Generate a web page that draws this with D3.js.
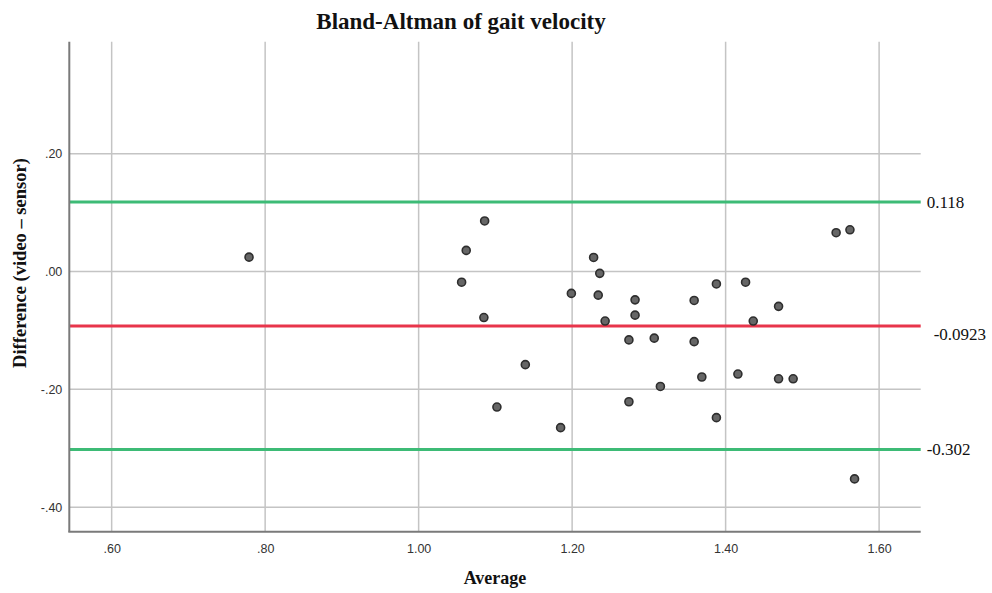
<!DOCTYPE html>
<html>
<head>
<meta charset="utf-8">
<script src="https://cdn.jsdelivr.net/npm/d3@7"></script>
<style>
  html, body { margin: 0; padding: 0; background: #ffffff; }
  svg { display: block; }
</style>
</head>
<body>
<svg id="chart" width="992" height="593"></svg>
<script>
// ---- data ----
const averageValues = [0.779, 1.086, 1.062, 1.056, 1.085, 1.139, 1.102, 1.185, 1.199, 1.228,
  1.236, 1.234, 1.243, 1.282, 1.282, 1.274, 1.307, 1.274, 1.315, 1.359, 1.359, 1.369,
  1.388, 1.426, 1.469, 1.436, 1.416, 1.469, 1.488, 1.388, 1.544, 1.562, 1.568];
const differenceValues = [0.0245, 0.086, 0.036, -0.018, -0.078, -0.158, -0.230, -0.265, -0.037, 0.024,
  -0.003, -0.040, -0.084, -0.048, -0.074, -0.116, -0.113, -0.221, -0.195, -0.049, -0.119, -0.179,
  -0.021, -0.018, -0.059, -0.084, -0.174, -0.182, -0.182, -0.248, 0.066, 0.071, -0.352];
const xTickValues = [0.6, 0.8, 1.0, 1.2, 1.4, 1.6];
const xTickLabels = [".60", ".80", "1.00", "1.20", "1.40", "1.60"];
const yTickValues = [0.2, 0.0, -0.2, -0.4];
const yTickLabels = [".20", ".00", "-.20", "-.40"];
const refValues = [0.118, -0.0923, -0.302];
const refLabels = ["0.118", "-0.0923", "-0.302"];
const refKinds = ["limit", "mean", "limit"];
const titleText = "Bland-Altman of gait velocity";
const xTitle = "Average";
const yTitle = "Difference (video \u2013 sensor)";

// ---- layout ----
const plot = { left: 69.3, right: 920.7, top: 41.7, bottom: 531.7 };
const x = d3.scaleLinear().domain([0.5448, 1.6542]).range([plot.left, plot.right]);
const y = d3.scaleLinear().domain([-0.4417, 0.3904]).range([plot.bottom, plot.top]);

const svg = d3.select("#chart");
const serif = "'Liberation Serif', 'Times New Roman', serif";
const sans = "'Liberation Sans', Arial, sans-serif";

// gridlines
const grid = svg.append("g").attr("stroke", "#c4c4c4").attr("stroke-width", 1.5);
grid.selectAll("line.v").data(xTickValues).join("line")
  .attr("class", "v")
  .attr("x1", d => x(d)).attr("x2", d => x(d))
  .attr("y1", plot.top).attr("y2", plot.bottom);
grid.selectAll("line.h").data(yTickValues).join("line")
  .attr("class", "h")
  .attr("x1", plot.left).attr("x2", plot.right)
  .attr("y1", d => y(d)).attr("y2", d => y(d));

// reference lines
const refColor = { limit: "#3dbb76", mean: "#e8354b" };
svg.append("g").selectAll("line").data(refValues).join("line")
  .attr("x1", plot.left).attr("x2", plot.right)
  .attr("y1", d => y(d)).attr("y2", d => y(d))
  .attr("stroke", (d, i) => refColor[refKinds[i]])
  .attr("stroke-width", 3);

// axes (labels via d3 axes)
const xAxis = d3.axisBottom(x).tickValues(xTickValues)
  .tickFormat((d, i) => xTickLabels[i]).tickSize(0).tickPadding(12);
const gx = svg.append("g").attr("transform", `translate(0,${plot.bottom})`).call(xAxis);
gx.select(".domain").remove();
gx.selectAll("text").attr("font-family", sans).attr("font-size", 12.5).attr("fill", "#333");

const yAxis = d3.axisLeft(y).tickValues(yTickValues)
  .tickFormat((d, i) => yTickLabels[i]).tickSize(0).tickPadding(7);
const gy = svg.append("g").attr("transform", `translate(${plot.left},0)`).call(yAxis);
gy.select(".domain").remove();
gy.selectAll("text").attr("font-family", sans).attr("font-size", 12.5).attr("fill", "#333");

// axis lines
svg.append("line").attr("x1", plot.left).attr("x2", plot.left)
  .attr("y1", plot.top).attr("y2", plot.bottom)
  .attr("stroke", "#7a7a7a").attr("stroke-width", 2);
svg.append("line").attr("x1", plot.left - 1).attr("x2", plot.right)
  .attr("y1", plot.bottom).attr("y2", plot.bottom)
  .attr("stroke", "#7a7a7a").attr("stroke-width", 2);

// points
const pts = averageValues.map((a, i) => ({ a, d: differenceValues[i] }));
svg.append("g").selectAll("circle").data(pts).join("circle")
  .attr("cx", p => x(p.a)).attr("cy", p => y(p.d))
  .attr("r", 4)
  .attr("fill", "#666666")
  .attr("stroke", "#2e2e2e")
  .attr("stroke-width", 1.6);

// reference labels
svg.append("g").selectAll("text").data(refValues).join("text")
  .attr("x", (d, i) => plot.right + (refKinds[i] === "mean" ? 13 : 6))
  .attr("y", (d, i) => y(d) + (refKinds[i] === "mean" ? 8 : 0))
  .attr("dy", "0.35em")
  .attr("font-family", serif).attr("font-size", 17).attr("fill", "#111")
  .text((d, i) => refLabels[i]);

// titles
svg.append("text").attr("x", 461).attr("y", 28.5)
  .attr("text-anchor", "middle")
  .attr("font-family", serif).attr("font-weight", "bold").attr("font-size", 23)
  .attr("fill", "#111").text(titleText);

svg.append("text").attr("x", (plot.left + plot.right) / 2).attr("y", 584)
  .attr("text-anchor", "middle")
  .attr("font-family", serif).attr("font-weight", "bold").attr("font-size", 18)
  .attr("fill", "#111").text(xTitle);

svg.append("text")
  .attr("transform", `translate(26,263) rotate(-90)`)
  .attr("text-anchor", "middle")
  .attr("font-family", serif).attr("font-weight", "bold").attr("font-size", 18.5)
  .attr("fill", "#111").text(yTitle);
</script>
</body>
</html>
